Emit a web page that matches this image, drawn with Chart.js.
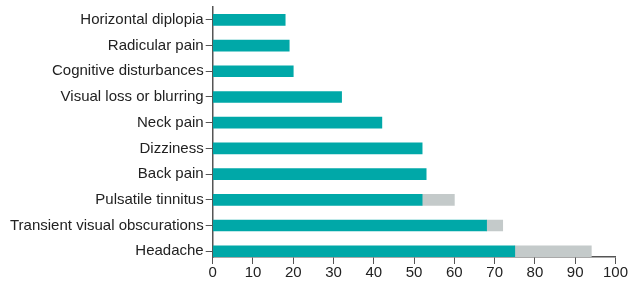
<!DOCTYPE html>
<html>
<head>
<meta charset="utf-8">
<script src="https://cdn.jsdelivr.net/npm/chart.js@4.4.1/dist/chart.umd.min.js"></script>
<style>
  html, body { margin: 0; padding: 0; background: #fff; }
  #wrap { width: 628px; height: 283px; }
</style>
</head>
<body>
<div id="wrap"><canvas id="chart"></canvas></div>
<script>
const symptoms = ['Horizontal diplopia', 'Radicular pain', 'Cognitive disturbances', 'Visual loss or blurring',
    'Neck pain', 'Dizziness', 'Back pain', 'Pulsatile tinnitus', 'Transient visual obscurations', 'Headache'];
const mainPct = [18, 19, 20, 32, 42, 52, 53, 52, 68, 75];
const extraPct = [null, null, null, null, null, null, null, 8, 4, 19];
const xTicks = [0, 10, 20, 30, 40, 50, 60, 70, 80, 90, 100];

const teal = '#00a8a8';
const grey = '#c4caca';
const axisColor = '#555';
const fontFamily = 'Liberation Sans, Arial, sans-serif';

function toPoints(values) {
    return values.map((v, i) => ({ x: v, y: i }));
}

new Chart(document.getElementById('chart'), {
    type: 'bar',
    data: {
        datasets: [
            { data: toPoints(mainPct), backgroundColor: teal, barThickness: 11, borderWidth: 0 },
            { data: toPoints(extraPct), backgroundColor: grey, barThickness: 11, borderWidth: 0 }
        ]
    },
    options: {
        indexAxis: 'y',
        responsive: true,
        maintainAspectRatio: false,
        animation: false,
        layout: { padding: { left: 8, top: 0, right: 0, bottom: 1 } },
        plugins: { legend: { display: false }, tooltip: { enabled: false } },
        scales: {
            x: {
                type: 'linear',
                stacked: true,
                min: 0,
                max: 100,
                afterBuildTicks: s => { s.ticks = xTicks.map(v => ({ value: v })); },
                grid: { drawOnChartArea: false, tickLength: 7, color: axisColor },
                border: { color: axisColor, width: 1.5 },
                ticks: { color: '#222', padding: 0, font: { family: fontFamily, size: 15 } }
            },
            y: {
                type: 'linear',
                stacked: true,
                reverse: true,
                offset: false,
                min: -0.5,
                max: 9.225,
                afterBuildTicks: s => { s.ticks = symptoms.map((_, i) => ({ value: i })); },
                grid: { offset: false, drawOnChartArea: false, tickLength: 7, color: axisColor },
                border: { color: axisColor, width: 1.5 },
                ticks: {
                    color: '#222',
                    padding: 2,
                    autoSkip: false,
                    font: { family: fontFamily, size: 15, lineHeight: 0.67 },
                    callback: v => symptoms[v]
                }
            }
        }
    }
});
</script>
</body>
</html>
